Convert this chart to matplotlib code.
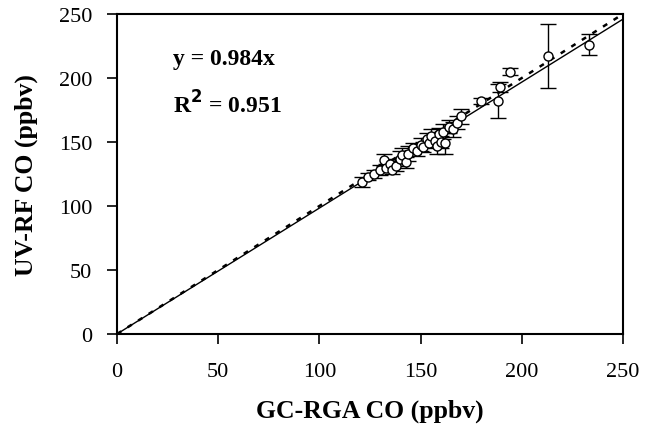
import matplotlib
matplotlib.use("Agg")
import matplotlib.pyplot as plt
import numpy as np

plt.rcParams['font.family'] = ['Liberation Serif', 'DejaVu Serif']

gc_co = [121, 124, 127, 130, 132, 133, 135, 136, 138, 140, 141, 143, 144, 146, 148,
         150, 151, 153, 154, 155, 157, 158, 159, 160, 161, 162, 164, 166, 168, 170,
         180, 188, 189, 194, 213, 233]
uv_co = [119, 123, 125, 128, 136, 130, 133, 128, 131, 137, 140, 134, 141, 145, 143,
         148, 146, 152, 149, 155, 151, 147, 156, 150, 158, 149, 162, 160, 165, 170,
         182, 182, 193, 205, 217, 226]
uv_err = [4, 3, 3, 4, 5, 3, 4, 3, 4, 6, 5, 4, 6, 4, 4,
          5, 4, 5, 4, 5, 4, 6, 5, 5, 6, 8, 5, 6, 5, 6,
          2, 13, 4, 3, 25, 8]
slope = 0.984
eq_text = "y = 0.984x"
r2_text = "R$^{\\mathbf{2}}$ = 0.951"

fig = plt.figure(figsize=(6.49, 4.27), dpi=100)
ax = fig.add_axes([0.1803, 0.2155, 0.7797, 0.7494])

xs = np.array([0, 250])
ax.plot(xs, xs, linestyle=(0, (2, 3)), color='black', lw=1.8, zorder=2)
ax.plot(xs, slope * xs, color='black', lw=1.0, zorder=2)
ax.errorbar(gc_co, uv_co, yerr=uv_err, fmt='o', mfc='white', mec='black',
            ecolor='black', ms=6.5, mew=1.0, capsize=6, elinewidth=1.0, capthick=1.2, zorder=3)

ax.set_xlim(0, 250)
ax.set_ylim(0, 250)
ax.set_xticks(np.arange(0, 251, 50))
ax.set_yticks(np.arange(0, 251, 50))
ax.tick_params(direction='out', length=7, width=1.2, labelsize=16)
ax.tick_params(axis='x', pad=13)
ax.tick_params(axis='y', pad=11)
for s in ax.spines.values():
    s.set_linewidth(1.5)

ax.set_xlabel("GC-RGA CO (ppbv)", fontsize=18.5, fontweight='bold')
ax.set_ylabel("UV-RF CO (ppbv)", fontsize=18.5, fontweight='bold')
ax.xaxis.set_label_coords(0.5, -0.24)
ax.yaxis.set_label_coords(-0.18, 0.5)
ax.xaxis.label.set_va('center')
ax.yaxis.label.set_va('center')

ax.text(27.7, 215, eq_text, fontsize=17, fontweight='bold', ha='left', va='center')
ax.text(27.7, 180, r2_text, fontsize=17, fontweight='bold', ha='left', va='center')

fig.savefig("out.png", dpi=100)
